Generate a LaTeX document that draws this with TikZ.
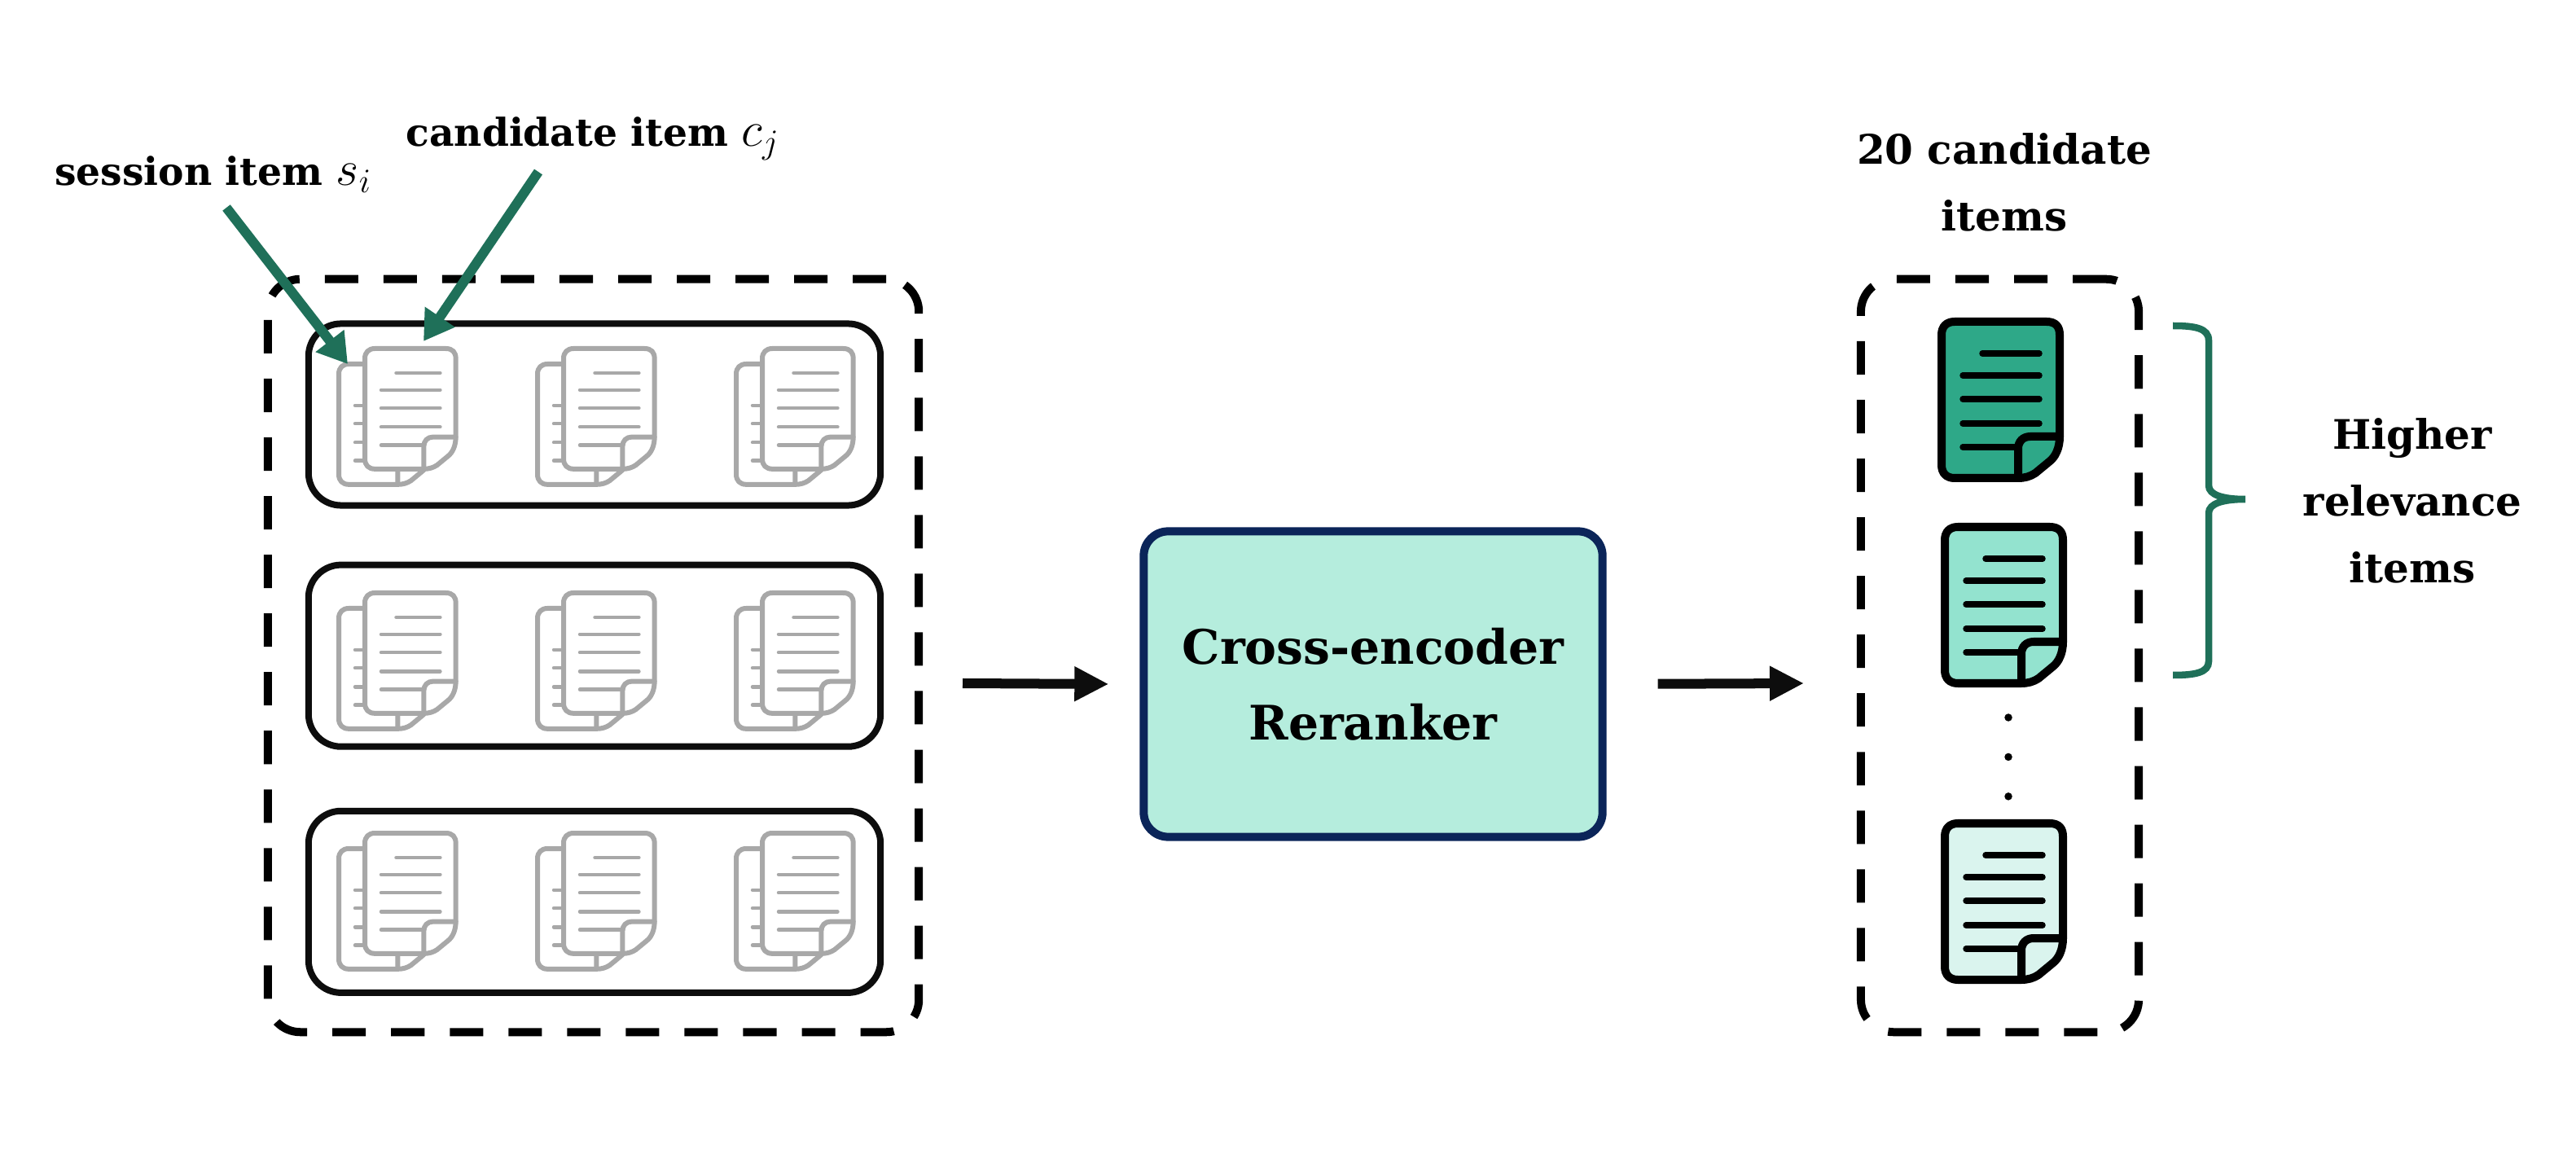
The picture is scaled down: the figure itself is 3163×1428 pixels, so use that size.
\documentclass[tikz,border=0pt]{standalone}
\usepackage{fontspec}
\usepackage{amsmath}
\setmainfont{DejaVu Serif}
\usetikzlibrary{arrows.meta}
\usetikzlibrary{positioning}
\definecolor{teal1}{HTML}{1F7059}
\definecolor{navy1}{HTML}{0B2559}
\definecolor{mint0}{HTML}{B5EDDD}
\definecolor{mint1}{HTML}{2EA888}
\definecolor{mint2}{HTML}{93E3CF}
\definecolor{mint3}{HTML}{DAF4EE}
\definecolor{gray1}{HTML}{A8A8A8}
\tikzset{dashbox/.style = {draw, line width = 0.1cm, rounded corners = 0.4cm, dash pattern = on 0.41cm off 0.31cm, inner sep = 0}}
\tikzset{rowbox/.style = {draw, black!95, line width = 0.08cm, rounded corners = 0.4cm, inner sep = 0, minimum width = 7.02cm, minimum height = 2.23cm}}
\tikzset{flow/.style = {line width = 0.12cm, black!95, -{Triangle[length = 0.42cm, width = 0.4cm]}}}
\tikzset{pointer/.style = {line width = 0.12cm, teal1, -{Triangle[length = 0.36cm, width = 0.42cm]}}}
\tikzset{label/.style = {font = \fontsize{14.2}{23.3}\selectfont\bfseries, align = center, inner sep = 0}}
\tikzset{smalllabel/.style = {label, font = \fontsize{13.4}{20}\selectfont\bfseries}}
\tikzset{dotmark/.style = {fill, circle, inner sep = 0, minimum size = 0.095cm}}
\newcommand{\bigmath}[1]{{\fontsize{18}{20}\selectfont $#1$}}
\tikzset{pics/docicon/.style n args = {3}{code = {
      \draw [#1, fill = #2, line width = #3, line join = round]
        (16, 0) -- (129, 0) .. controls (140, 0) and (145, 6) .. (145, 16)
        -- (145, 141) .. controls (145, 155) and (140, 166) .. (132, 172)
        -- (115, 186) .. controls (109, 190) and (102, 192) .. (94, 192)
        -- (16, 192) .. controls (6, 192) and (0, 186) .. (0, 176)
        -- (0, 16) .. controls (0, 6) and (6, 0) .. (16, 0) -- cycle;
      \draw [#1, line width = #3, line cap = round] (94, 192) -- (94, 156)
        .. controls (94, 147) and (100, 141) .. (109, 141) -- (145, 141);
      \draw [#1, line width = 0.75*#3, line cap = round] (50, 39) -- (120, 39);
      \draw [#1, line width = 0.75*#3, line cap = round] (26, 66) -- (120, 66);
      \draw [#1, line width = 0.75*#3, line cap = round] (26, 95) -- (120, 95);
      \draw [#1, line width = 0.75*#3, line cap = round] (26, 125) -- (120, 125);
      \draw [#1, line width = 0.75*#3, line cap = round] (26, 154) -- (94, 154);
    }}}
\tikzset{pics/docpair/.style = {code = {
      \pic at (0, 19) [scale = 0.77] {docicon = {gray1}{white}{0.06cm}};
      \pic at (32, 0) [scale = 0.77] {docicon = {gray1}{white}{0.06cm}};
    }}}
\begin{document}
\begin{tikzpicture}[x = 0.01cm, y = -0.01cm]
      \useasboundingbox (0, 0) rectangle (3163, 1428);

      % left part
      \node (outer) at (728.5, 805) [dashbox, minimum width = 7.99cm, minimum height = 9.24cm] {};
      \node (rowa) at (730, 509) [rowbox] {};
      \node (rowb) [rowbox, below = 0.65cm of rowa] {};
      \node (rowc) [rowbox, below = 0.71cm of rowb] {};

      \pic at (416, 428) {docpair};
      \pic at (660, 428) {docpair};
      \pic at (904, 428) {docpair};
      \pic at (416, 728) {docpair};
      \pic at (660, 728) {docpair};
      \pic at (904, 728) {docpair};
      \pic at (416, 1023) {docpair};
      \pic at (660, 1023) {docpair};
      \pic at (904, 1023) {docpair};

      % labels on top
      \node (session) at (262, 214) [smalllabel] {session item \bigmath{s_i}};
      \node (candidate) at (728, 170) [smalllabel] {candidate item \bigmath{c_j}};
      \coordinate (sessionfrom) at (278, 255);
      \coordinate (sessionto) at (427, 447);
      \coordinate (candidatefrom) at (661, 211);
      \coordinate (candidateto) at (520, 419);
      \draw [pointer] (sessionfrom) -- (sessionto);
      \draw [pointer] (candidatefrom) -- (candidateto);

      % middle
      \node (rerank) at (1686, 840) [draw = navy1, fill = mint0, line width = 0.1cm, rounded corners = 0.3cm, minimum width = 5.63cm, minimum height = 3.75cm, label, font = \fontsize{16.6}{26.5}\selectfont\bfseries] {Cross-encoder\\Reranker};
      \coordinate (flowa) at (1182, 839);
      \coordinate (flowb) at (2215, 839);
      \draw [flow, shorten > = 0.08cm] (flowa) -- ([xshift = -0.3cm]rerank.west);
      \draw [flow, shorten < = 0.63cm] (rerank.east) -- (flowb);

      % right part
      \node (ranked) at (2455.5, 805) [dashbox, minimum width = 3.41cm, minimum height = 9.24cm] {};
      \node (toplabel) at (2461, 224) [label] {20 candidate\\items};
      \pic at (2384, 395) {docicon = {black}{mint1}{0.1cm}};
      \pic at (2388, 647) {docicon = {black}{mint2}{0.1cm}};
      \pic at (2388, 1011) {docicon = {black}{mint3}{0.1cm}};
      \node (dota) at (2466, 881) [dotmark] {};
      \node (dotb) [dotmark, below = 0.375cm of dota] {};
      \node (dotc) [dotmark, below = 0.375cm of dotb] {};

      \coordinate (bracetop) at (2668, 400);
      \coordinate (bracemid) at (2757, 613);
      \coordinate (bracebot) at (2668, 829);
      \draw [teal1, line width = 0.085cm] (bracetop) .. controls (2695, 400) and (2712, 403) .. (2712, 418)
        -- (2712, 596) .. controls (2712, 608) and (2730, 613) .. (bracemid)
        .. controls (2730, 613) and (2712, 618) .. (2712, 630)
        -- (2712, 812) .. controls (2712, 826) and (2695, 829) .. (bracebot);
      \node (higher) at (2962, 615) [label] {Higher\\relevance\\items};
\end{tikzpicture}
\end{document}
